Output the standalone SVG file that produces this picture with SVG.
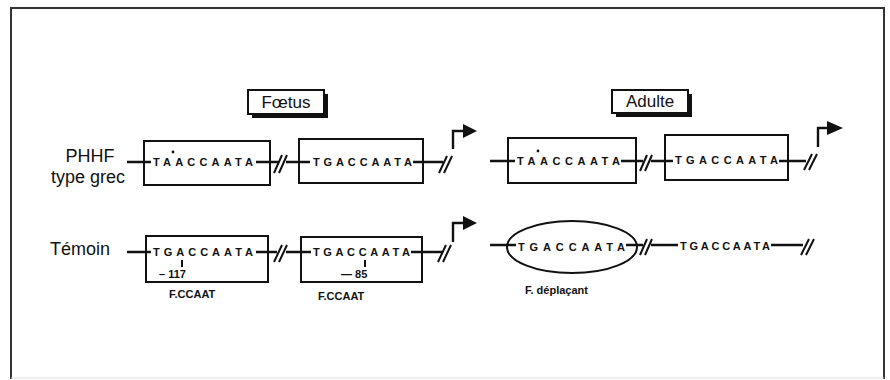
<svg xmlns="http://www.w3.org/2000/svg" width="890" height="380" viewBox="0 0 890 380">
<style>
.frame{fill:none;stroke:#333;stroke-width:2}
.box{fill:#fff;stroke:#111;stroke-width:2}
.ln{fill:none;stroke:#111;stroke-width:2.4}
.sl{fill:none;stroke:#111;stroke-width:2}
.seq{font-family:"Liberation Sans",Arial,sans-serif;font-weight:bold;font-size:11px;fill:#111}
.lab{font-family:"Liberation Sans",Arial,sans-serif;font-size:18px;fill:#111}
.small{font-family:"Liberation Sans",Arial,sans-serif;font-weight:bold;font-size:11px;fill:#111}
.title{font-family:"Liberation Sans",Arial,sans-serif;font-size:17px;fill:#111;text-anchor:middle}
.arrowhead{fill:#111}
</style>
<rect width="890" height="380" fill="#fff"/>
<path class="frame" d="M11,379 V8 H884 V379"/>
<line x1="11" y1="378" x2="884" y2="378" stroke="#ddd" stroke-width="1"/>

<g id="title-foetus">
<rect x="252" y="94" width="76" height="24" fill="#111"/>
<rect x="248" y="90" width="76" height="24" class="box"/>
<text x="286" y="108" class="title">Fœtus</text>
</g>
<g id="title-adulte">
<rect x="616" y="94" width="76" height="23" fill="#111"/>
<rect x="612" y="90" width="76" height="23" class="box"/>
<text x="650" y="107" class="title">Adulte</text>
</g>

<g id="label-phhf">
<text x="90" y="162" class="lab" text-anchor="middle">PHHF</text>
<text x="88" y="183" class="lab" text-anchor="middle">type grec</text>
</g>
<g id="label-temoin">
<text x="50" y="255" class="lab">Témoin</text>
</g>

<!-- Row 1 Foetus -->
<g id="f1-box1">
<rect x="144" y="141" width="126" height="44" class="box"/>
<text x="153" y="166" class="seq" textLength="100" lengthAdjust="spacing">TAACCAATA</text>
<circle cx="173" cy="152" r="1.4" fill="#111"/>
</g>
<g id="f1-box2">
<rect x="299" y="139" width="124" height="44" class="box"/>
<text x="313" y="166" class="seq" textLength="99" lengthAdjust="spacing">TGACCAATA</text>
</g>
<!-- Row 1 Adulte -->
<g id="a1-box1">
<rect x="508" y="138" width="128" height="45" class="box"/>
<text x="517" y="165" class="seq" textLength="103" lengthAdjust="spacing">TAACCAATA</text>
<circle cx="538" cy="151" r="1.4" fill="#111"/>
</g>
<g id="a1-box2">
<rect x="665" y="135" width="123" height="45" class="box"/>
<text x="675" y="164" class="seq" textLength="103" lengthAdjust="spacing">TGACCAATA</text>
</g>
<!-- Row 2 Temoin -->
<g id="t2-box1">
<rect x="146" y="236" width="122" height="46" class="box"/>
<text x="153" y="256" class="seq" textLength="100" lengthAdjust="spacing">TGACCAATA</text>
<line x1="182" y1="260" x2="182" y2="267" class="sl" stroke-width="1.6"/>
<text x="159" y="278" class="small">– 117</text>
<text x="169" y="298" class="small">F.CCAAT</text>
</g>
<g id="t2-box2">
<rect x="301" y="237" width="121" height="45" class="box"/>
<text x="313" y="256" class="seq" textLength="97" lengthAdjust="spacing">TGACCAATA</text>
<line x1="365" y1="260" x2="365" y2="267" class="sl" stroke-width="1.6"/>
<text x="341" y="278" class="small">— 85</text>
<text x="318" y="300" class="small">F.CCAAT</text>
</g>
<!-- Row 2 Adulte -->
<g id="a2-ellipse">
<ellipse cx="572" cy="247" rx="65" ry="26" class="box"/>
<text x="518" y="251" class="seq" textLength="107" lengthAdjust="spacing">TGACCAATA</text>
<text x="525" y="294" class="small" font-size="12px">F. déplaçant</text>
</g>
<g id="a2-seq2">
<text x="680" y="250" class="seq" textLength="90" lengthAdjust="spacing">TGACCAATA</text>
</g>

<g id="connectors">
<!-- Row 1 Foetus -->
<path class="ln" d="M127,162 H151 M256,162 H278 M286,162 H310 M413,162 H443"/>
<path class="sl" d="M274,173 L282,155 M279,173 L287,155"/>
<path class="sl" d="M439,173 L447,156 M444,173 L452,156"/>
<path class="ln" d="M453,149 V131 H464"/>
<polygon class="arrowhead" points="463,124 477,131 463,138"/>
<!-- Row 1 Adulte -->
<path class="ln" d="M490,161 H515 M621,161 H643 M651,161 H673 M779,161 H806"/>
<path class="sl" d="M640,171 L647,155 M645,171 L652,155"/>
<path class="sl" d="M804,170 L812,154 M809,170 L817,154"/>
<path class="ln" d="M818,147 V128 H828"/>
<polygon class="arrowhead" points="827,121 843,128 827,135"/>
<!-- Row 2 Temoin -->
<path class="ln" d="M127,252 H151 M256,252 H277 M286,252 H311 M411,252 H442"/>
<path class="sl" d="M274,262 L282,245 M279,262 L287,245"/>
<path class="sl" d="M438,262 L446,245 M443,262 L451,245"/>
<path class="ln" d="M453,242 V223 H464"/>
<polygon class="arrowhead" points="463,216 477,223 463,230"/>
<!-- Row 2 Adulte -->
<path class="ln" d="M490,245 H516 M626,245 H643 M651,245 H678 M771,245 H803"/>
<path class="sl" d="M640,255 L647,239 M645,255 L652,239"/>
<path class="sl" d="M801,255 L809,239 M806,255 L814,239"/>
</g>
</svg>
